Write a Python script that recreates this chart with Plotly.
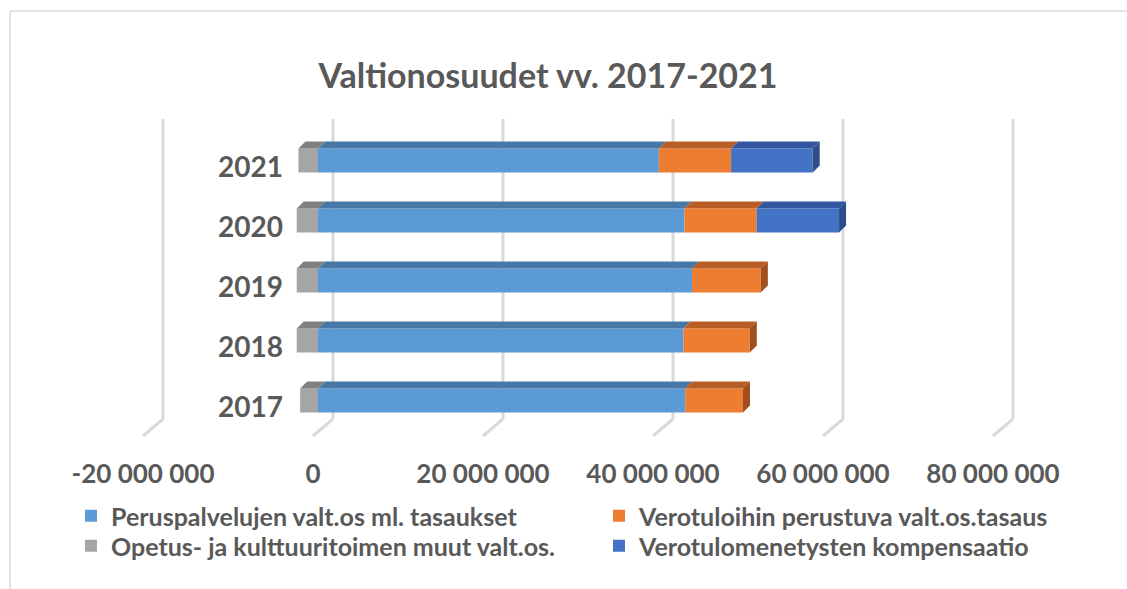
import plotly.graph_objects as go

# ---------------- data ----------------
years = [2017, 2018, 2019, 2020, 2021]
peruspalvelut = [43.2e6, 43.0e6, 44.0e6, 43.1e6, 40.1e6]
verotulotasaus = [6.8e6, 7.8e6, 8.1e6, 8.5e6, 8.5e6]
opetus_kulttuuri = [-2.1e6, -2.5e6, -2.5e6, -2.5e6, -2.3e6]
kompensaatio = [0, 0, 0, 9.7e6, 9.6e6]

series_names = [
    "Peruspalvelujen valt.os ml. tasaukset",
    "Verotuloihin perustuva valt.os.tasaus",
    "Opetus- ja kulttuuritoimen muut valt.os.",
    "Verotulomenetysten kompensaatio",
]
tick_vals = [-20e6, 0, 20e6, 40e6, 60e6, 80e6]
tick_text = ["-20 000 000", "0", "20 000 000", "40 000 000", "60 000 000", "80 000 000"]
title_text = "Valtionosuudet vv. 2017-2021"

# ---------------- style ----------------
W, H = 1127, 589
L, R, T, B = 110, 1110, 119, 436          # plot area in px
PX_PER_M = 8.5                            # px per 1 000 000
ZERO_PX = 318
XMIN = (L - ZERO_PX) / PX_PER_M * 1e6
XMAX = (R - ZERO_PX) / PX_PER_M * 1e6
PX_PER_Y = 60.0
YMIN = years[0] - (B - 400.5) / PX_PER_Y
YMAX = YMIN + (B - T) / PX_PER_Y
BAR_W = 0.4
PW, PH = R - L, B - T

def px_x(px):
    return (px - L) / PW

def px_y(py):
    return (B - py) / PH

front_cols = ["#5B9BD5", "#ED7D31", "#A5A5A5", "#4472C4"]
top_cols = ["#4677A6", "#B85E24", "#808080", "#3356A0"]
side_cols = ["#3E6A94", "#A0501C", "#6E6E6E", "#2D4D8C"]
legend_rows = ["legend", "legend", "legend2", "legend2"]
grid_col = "#D9D9D9"
text_col = "#595959"
FONT = "Lato"

dx = 7 / (PX_PER_M / 1e6)       # depth offset in x data units
dy = 7 / PX_PER_Y               # depth offset in y data units

series = [peruspalvelut, verotulotasaus, opetus_kulttuuri, kompensaatio]

fig = go.Figure()
for name, vals, col, lg in zip(series_names, series, front_cols, legend_rows):
    fig.add_trace(go.Bar(
        y=years, x=vals, name=f"<b>{name}</b>", orientation="h",
        marker=dict(color=col, line=dict(width=0)), width=BAR_W, legend=lg,
    ))

shapes = []
# chart-area border (left and top edges visible)
shapes.append(dict(type="line", xref="paper", yref="paper",
                   x0=px_x(10), x1=px_x(10), y0=px_y(H + 5), y1=px_y(11),
                   line=dict(color="#D9D9D9", width=1.5), layer="below"))
shapes.append(dict(type="line", xref="paper", yref="paper",
                   x0=px_x(10), x1=px_x(W + 5), y0=px_y(11), y1=px_y(11),
                   line=dict(color="#D9D9D9", width=1.5), layer="below"))

# gridlines: back-wall vertical part + floor slant toward front
back_off = 15 / (PX_PER_M / 1e6)
front_off = -5 / (PX_PER_M / 1e6)
y_wall_bottom = px_y(419)
for v in tick_vals:
    xb = v + back_off
    xf = v + front_off
    shapes.append(dict(type="line", xref="x", yref="paper", x0=xb, x1=xb,
                       y0=y_wall_bottom, y1=1, line=dict(color=grid_col, width=3), layer="below"))
    shapes.append(dict(type="line", xref="x", yref="paper", x0=xb, x1=xf,
                       y0=y_wall_bottom, y1=0, line=dict(color=grid_col, width=3), layer="below"))

# 3D top faces and right end faces of the bars
for i, yv in enumerate(years):
    yt = yv + BAR_W / 2
    yb = yv - BAR_W / 2
    pos_start = 0.0
    neg_start = 0.0
    last_end = None
    last_k = None
    segs = []
    for k, vals in enumerate(series):
        v = vals[i]
        if v == 0:
            continue
        if v > 0:
            a, b = pos_start, pos_start + v
            pos_start = b
            if last_end is None or b > last_end:
                last_end, last_k = b, k
        else:
            a, b = neg_start + v, neg_start
            neg_start = a
        segs.append((a, b, k))
    for a, b, k in segs:
        path = f"M {a},{yt} L {b},{yt} L {b+dx},{yt+dy} L {a+dx},{yt+dy} Z"
        shapes.append(dict(type="path", xref="x", yref="y", path=path,
                           fillcolor=top_cols[k], line=dict(width=0), layer="above"))
    if last_end is not None:
        b = last_end
        path = f"M {b},{yt} L {b+dx},{yt+dy} L {b+dx},{yb+dy} L {b},{yb} Z"
        shapes.append(dict(type="path", xref="x", yref="y", path=path,
                           fillcolor=side_cols[last_k], line=dict(width=0), layer="above"))

legend_common = dict(orientation="h", xref="paper", yref="paper",
                     x=px_x(79), xanchor="left", yanchor="middle",
                     entrywidth=483, entrywidthmode="pixels",
                     font=dict(size=25, color=text_col, family=FONT),
                     traceorder="normal", itemclick=False, itemdoubleclick=False,
                     tracegroupgap=0, bgcolor="rgba(0,0,0,0)")

fig.update_layout(
    width=W, height=H,
    margin=dict(l=L, r=W - R, t=T, b=H - B, pad=0),
    paper_bgcolor="white", plot_bgcolor="white",
    barmode="relative",
    font=dict(family=FONT, color=text_col),
    title=dict(text=f"<b>{title_text}</b>", x=548 / W, xref="container", xanchor="center",
               y=(H - 76) / H, yref="container", yanchor="middle",
               font=dict(size=34, color=text_col, family=FONT)),
    xaxis=dict(range=[XMIN, XMAX], showgrid=False, zeroline=False, showline=False,
               tickvals=tick_vals, ticktext=[f"<b>{t}</b>" for t in tick_text],
               tickfont=dict(size=26, color=text_col, family=FONT),
               ticks="", ticklabelstandoff=20, ticklabelshift=-5, fixedrange=True),
    yaxis=dict(range=[YMIN, YMAX], showgrid=False, zeroline=False, showline=False,
               tickvals=years, ticktext=[f"<b>{y}</b>" for y in years],
               tickfont=dict(size=28, color=text_col, family=FONT),
               ticks="", anchor="free", position=px_x(291),
               ticklabelstandoff=8, ticklabelshift=7, fixedrange=True),
    legend=dict(legend_common, y=px_y(516)),
    legend2=dict(legend_common, y=px_y(546)),
    shapes=shapes,
    showlegend=True,
)

fig.write_html("out.html", config={"displayModeBar": False},
               post_script="document.body.style.margin='0px';")
